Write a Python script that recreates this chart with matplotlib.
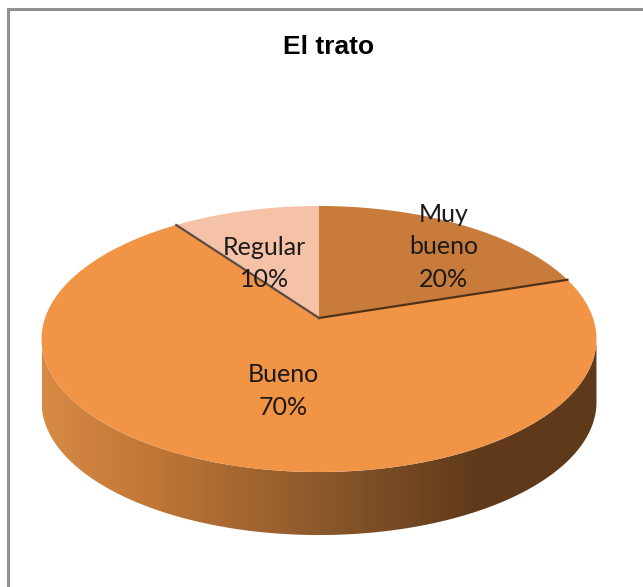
import numpy as np
import matplotlib
matplotlib.use('Agg')
import matplotlib.pyplot as plt
from matplotlib.patches import Polygon
from matplotlib.colors import LinearSegmentedColormap

# datos
categorias = ['Muy bueno', 'Bueno', 'Regular']
porcentajes = [20, 70, 10]
etiquetas = ['Muy\nbueno\n20%', 'Bueno\n70%', 'Regular\n10%']
colores = ['#C87B3A', '#F29446', '#F6C2A7']
titulo = 'El trato'

# geometria de la "torta 3D" (pixeles)
W, H = 643, 587
cx, cy = 319, 318      # vertice (centro del disco)
A, B, k = 274, 129.7, 0.158
prof = 63              # grosor del lateral
# posicion de etiquetas en el disco (angulo, radio)
pos_etq = [(39.6, 0.78), (193, 0.53), (-25.3, 0.50)]


def proy(theta_deg, r=1.0, dz=0.0):
    t = np.radians(theta_deg)
    u = r * np.sin(t)
    v = r * np.cos(t)
    d = 1 + k * v
    return cx + A * u / d, cy - B * v / d + dz


fig = plt.figure(figsize=(W / 100, H / 100), dpi=100)
ax = fig.add_axes([0, 0, 1, 1])
ax.set_xlim(0, W)
ax.set_ylim(H, 0)
ax.axis('off')

# marco gris
ax.plot([8, 8, W], [H, 9, 9], color='#8f8f8f', lw=2.2, solid_joinstyle='miter')

# lateral con degradado
t_izq = np.degrees(np.arccos(-k))
t_der = 360 - t_izq
ang = np.linspace(t_izq, t_der, 200)
xs_sup, ys_sup = proy(ang)
xs_inf, ys_inf = proy(ang[::-1], dz=prof)
lateral = Polygon(np.column_stack([np.r_[xs_sup, xs_inf], np.r_[ys_sup, ys_inf]]),
                  closed=True, facecolor='none', edgecolor='none')
ax.add_patch(lateral)
cmap = LinearSegmentedColormap.from_list(
    'lat', [(0, '#D88A44'), (0.2, '#C07636'), (0.5, '#8C592C'),
            (0.78, '#603A1B'), (1, '#5E391A')])
grad = np.linspace(0, 1, 256).reshape(1, -1)
img = ax.imshow(grad, cmap=cmap, aspect='auto',
                extent=(xs_sup.min(), xs_sup.max(), ys_inf.max() + 2, ys_sup.min() - 2),
                zorder=1)
img.set_clip_path(lateral)

# cara superior
inicio = 0.0
bordes = []
for pct, col in zip(porcentajes, colores):
    fin = inicio + pct / sum(porcentajes) * 360
    a = np.linspace(inicio, fin, 120)
    px, py = proy(a)
    ax.fill(np.r_[cx, px], np.r_[cy, py], color=col, lw=0, zorder=2)
    bordes.append(fin)
    inicio = fin

# lineas de corte entre porciones
for b, col in zip(bordes[:2], ['#4F3118', '#5A4C44']):
    bx, by = proy(b)
    ax.plot([cx, bx], [cy, by], color=col, lw=1.6, zorder=3)

# etiquetas
for txt, (ae, re) in zip(etiquetas, pos_etq):
    tx, ty = proy(ae, re)
    ax.text(tx, ty, txt, ha='center', va='center', fontsize=18,
            family='Lato', color='#1a1a1a', linespacing=1.5, zorder=4)

ax.text(329, 47, titulo, ha='center', va='center', fontsize=19,
        family='Liberation Sans', fontweight='bold', color='black')

fig.savefig('out.png', dpi=100)
